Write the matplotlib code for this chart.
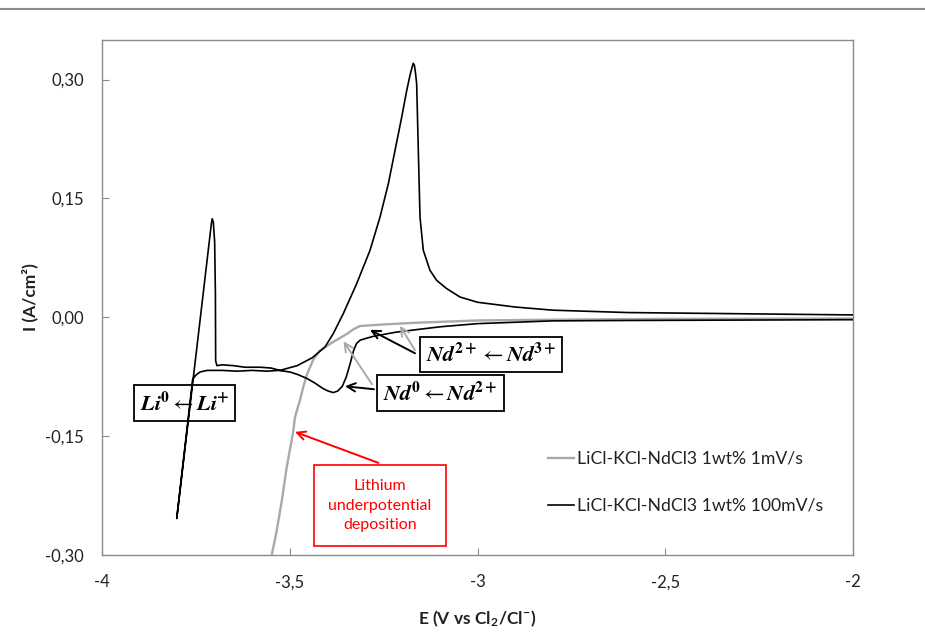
import matplotlib
matplotlib.use("Agg")
import matplotlib.pyplot as plt
from matplotlib.lines import Line2D

plt.rcParams['font.family'] = ['Lato', 'DejaVu Sans']
plt.rcParams['mathtext.fontset'] = 'stix'

# ---- data ----
# 100 mV/s cyclic voltammogram (cathodic sweep from -2 V then anodic return)
E_fast = [-2.00, -2.30, -2.60, -2.80, -3.00, -3.10, -3.17, -3.22, -3.277, -3.300, -3.313,
          -3.322, -3.330, -3.340, -3.350, -3.360, -3.372, -3.384, -3.398, -3.411, -3.433,
          -3.455, -3.480, -3.500, -3.530, -3.560, -3.600, -3.640, -3.680, -3.720, -3.739,
          -3.750, -3.7585, -3.801,
          -3.760, -3.730, -3.712, -3.7085, -3.7066, -3.7035, -3.700, -3.698, -3.6973, -3.694,
          -3.680, -3.650, -3.620, -3.580, -3.550, -3.526, -3.480, -3.440, -3.406, -3.384,
          -3.3574, -3.3217, -3.2863, -3.2597, -3.2375, -3.2197, -3.2019, -3.1886, -3.180, -3.1740,
          -3.1710, -3.1680, -3.1650, -3.162, -3.1576, -3.1531, -3.1443, -3.1265, -3.1087, -3.082,
          -3.0466, -3.000, -2.900, -2.800, -2.600, -2.400, -2.200, -2.000]
I_fast = [-0.0030, -0.0035, -0.0040, -0.0045, -0.0080, -0.0120, -0.0160, -0.0190, -0.0240, -0.0270, -0.0290,
          -0.0330, -0.0420, -0.0600, -0.0760, -0.0870, -0.0930, -0.0950, -0.0930, -0.0900, -0.0830,
          -0.0770, -0.0720, -0.0690, -0.0670, -0.0680, -0.0670, -0.0680, -0.0670, -0.0670, -0.0690,
          -0.0730, -0.0780, -0.2540,
          -0.0890, 0.0320, 0.1050, 0.1190, 0.1244, 0.1200, 0.0950, 0.0300, -0.0550, -0.0610,
          -0.0600, -0.0610, -0.0630, -0.0630, -0.0640, -0.0670, -0.0610, -0.0510, -0.0374, -0.0205,
          0.0047, 0.0425, 0.0845, 0.1264, 0.1685, 0.2105, 0.2525, 0.2860, 0.3050, 0.3160,
          0.3206, 0.3180, 0.3080, 0.2946, 0.2105, 0.1264, 0.0845, 0.0592, 0.0466, 0.0362,
          0.0256, 0.0190, 0.0130, 0.0090, 0.0060, 0.0050, 0.0040, 0.0030]

# 1 mV/s cathodic sweep
E_slow = [-2.00, -2.50, -2.80, -3.00, -3.17, -3.25, -3.313, -3.330, -3.348, -3.384, -3.420,
          -3.437, -3.446, -3.455, -3.464, -3.473, -3.486, -3.491, -3.508, -3.521, -3.535, -3.548]
I_slow = [-0.0015, -0.0020, -0.0030, -0.0040, -0.0070, -0.0090, -0.0110, -0.0150, -0.0210, -0.0310, -0.0420,
          -0.0530, -0.0630, -0.0730, -0.0880, -0.1050, -0.1260, -0.1450, -0.1890, -0.2310, -0.2700, -0.3000]

label_slow = "LiCl-KCl-NdCl3 1wt% 1mV/s"
label_fast = "LiCl-KCl-NdCl3 1wt% 100mV/s"

x_ticks = [-4, -3.5, -3, -2.5, -2]
x_tick_labels = ['-4', '-3,5', '-3', '-2,5', '-2']
y_ticks = [-0.30, -0.15, 0.00, 0.15, 0.30]
y_tick_labels = ['-0,30', '-0,15', '0,00', '0,15', '0,30']

# ---- figure ----
W, H = 925, 637
fig = plt.figure(figsize=(W / 100, H / 100), dpi=100)
ax = fig.add_axes([102 / W, 1 - 555 / H, (853 - 102) / W, (555 - 40) / H])

grey = '#a9a9a9'
spine_c = '#8c8c8c'

ax.plot(E_slow, I_slow, color=grey, lw=1.7, label=label_slow, zorder=3)
ax.plot(E_fast, I_fast, color='black', lw=1.2, label=label_fast, zorder=4)

ax.set_xlim(-4, -2)
ax.set_ylim(-0.30, 0.35)
ax.set_xticks(x_ticks)
ax.set_xticklabels(x_tick_labels)
ax.set_yticks(y_ticks)
ax.set_yticklabels(y_tick_labels)
ax.tick_params(direction='in', length=5, color=spine_c, labelsize=12, labelcolor='#222222')
ax.tick_params(axis='x', pad=14)
ax.tick_params(axis='y', pad=13)
for s in ax.spines.values():
    s.set_color(spine_c)
    s.set_linewidth(1.0)

ax.set_xlabel(r'E (V vs Cl$_\mathregular{2}$/Cl$^\mathregular{-}$)', fontsize=12.5,
              fontweight='bold', labelpad=13, color='#222222')
ax.set_ylabel('I (A/cm²)', fontsize=12.5, fontweight='bold', labelpad=5, color='#222222')

leg = ax.legend(loc='upper left', bbox_to_anchor=(548 / W, 1 - 451 / H),
                bbox_transform=fig.transFigure, frameon=False, fontsize=12.7,
                handlelength=1.45, handletextpad=0.2, labelspacing=1.75,
                borderpad=0, borderaxespad=0)
for t in leg.get_texts():
    t.set_color('#222222')

# ---- annotations ----
box_k = dict(boxstyle='square,pad=0.28', fc='white', ec='black', lw=1.3)
box_li = dict(boxstyle='square,pad=0.28', fc='none', ec='black', lw=1.3)
mfs = 16

ax.text(-3.780, -0.1084, r'$\mathbfit{Li}^{\mathbf{0}}\leftarrow\mathbfit{Li}^{\mathbf{+}}$',
        ha='center', va='center', fontsize=mfs, bbox=box_li, zorder=5)
ax.text(-2.964, -0.0469, r'$\mathbfit{Nd}^{\mathbf{2+}}\leftarrow\mathbfit{Nd}^{\mathbf{3+}}$',
        ha='center', va='center', fontsize=mfs, bbox=box_k, zorder=5)
ax.text(-3.0993, -0.0958, r'$\mathbfit{Nd}^{\mathbf{0}}\leftarrow\mathbfit{Nd}^{\mathbf{2+}}$',
        ha='center', va='center', fontsize=mfs, bbox=box_k, zorder=5)
ax.text(-3.2597, -0.2376, 'Lithium\nunderpotential\ndeposition', color='#ff0000',
        ha='center', va='center', fontsize=11.5, linespacing=1.5,
        bbox=dict(boxstyle='square,pad=0.9', fc='white', ec='#ff0000', lw=1.2), zorder=5)

arr = dict(arrowstyle='->,head_length=0.6,head_width=0.3', lw=1.4, shrinkA=0, shrinkB=0)
ax.annotate('', xy=(-3.2863, -0.0158), xytext=(-3.1665, -0.0454),
            arrowprops=dict(arr, color='black'), zorder=6)
ax.annotate('', xy=(-3.2064, -0.0107), xytext=(-3.1665, -0.0416),
            arrowprops=dict(arr, color=grey), zorder=6)
ax.annotate('', xy=(-3.3529, -0.0870), xytext=(-3.2756, -0.0908),
            arrowprops=dict(arr, color='black'), zorder=6)
ax.annotate('', xy=(-3.3569, -0.0303), xytext=(-3.2810, -0.0845),
            arrowprops=dict(arr, color=grey), zorder=6)
ax.annotate('', xy=(-3.486, -0.1446), xytext=(-3.2642, -0.1837),
            arrowprops=dict(arr, color='#ff0000'), zorder=6)

# top separator line
fig.add_artist(Line2D([0, 1], [1 - 8.5 / H, 1 - 8.5 / H], transform=fig.transFigure,
                      color='#8a8a8a', lw=1.5))

fig.savefig('out.png', dpi=100, facecolor='white')
